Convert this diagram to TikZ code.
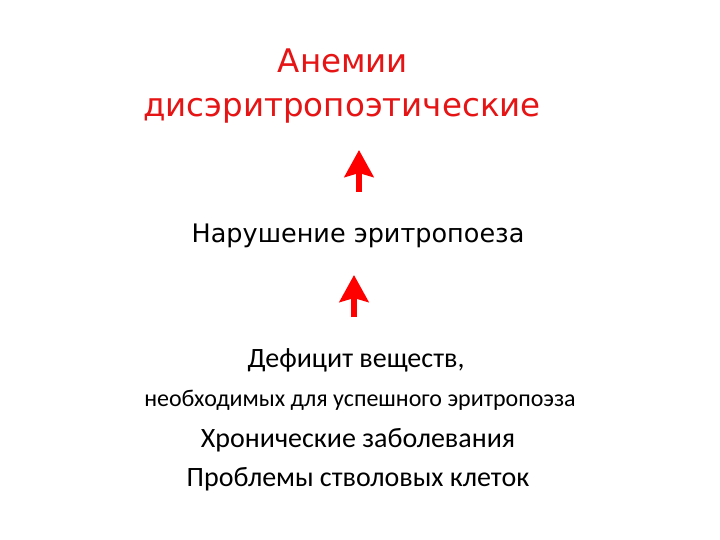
\documentclass[tikz,border=0pt]{standalone}
\usepackage{fontspec}
\setmainfont{Carlito}
\newfontfamily\dejavu{DejaVu Sans}
\usetikzlibrary{arrows.meta}
\definecolor{titlered}{RGB}{230,20,20}
\tikzset{
  title/.style={text=titlered, anchor=base, inner sep=0pt, font=\dejavu\fontsize{32.5}{40}\selectfont},
  mid/.style={text=black, anchor=base, inner sep=0pt, font=\dejavu\fontsize{25.5}{30}\selectfont},
  body/.style={text=black, anchor=base, inner sep=0pt, font=\fontsize{28}{34}\selectfont},
  small/.style={text=black, anchor=base, inner sep=0pt, font=\fontsize{24}{28}\selectfont},
  blockarrow/.style={draw=red, line width=6pt, -{Stealth[width=29pt,length=27pt,inset=4pt]}}
}
\begin{document}
\begin{tikzpicture}[x=1pt,y=-1pt]
\useasboundingbox[fill=white] (0,0) rectangle (720,540);
\node[title] (t1) at (343,73) {Анемии};
\node[title] (t2) at (342,117) {дисэритропоэтические};
\node[mid] (m) at (358,242) {Нарушение эритропоеза};
\node[body] (b1) at (356,367) {Дефицит веществ,};
\node[small] (b2) at (360,406) {необходимых для успешного эритропоэза};
\node[body] (b3) at (358,447) {Хронические заболевания};
\node[body] (b4) at (358,486) {Проблемы стволовых клеток};
\coordinate (a1s) at (359,192);
\coordinate (a1e) at (359,150);
\coordinate (a2s) at (354,317);
\coordinate (a2e) at (354,275);
\draw[blockarrow] (a1s) -- (a1e);
\draw[blockarrow] (a2s) -- (a2e);
\end{tikzpicture}
\end{document}
